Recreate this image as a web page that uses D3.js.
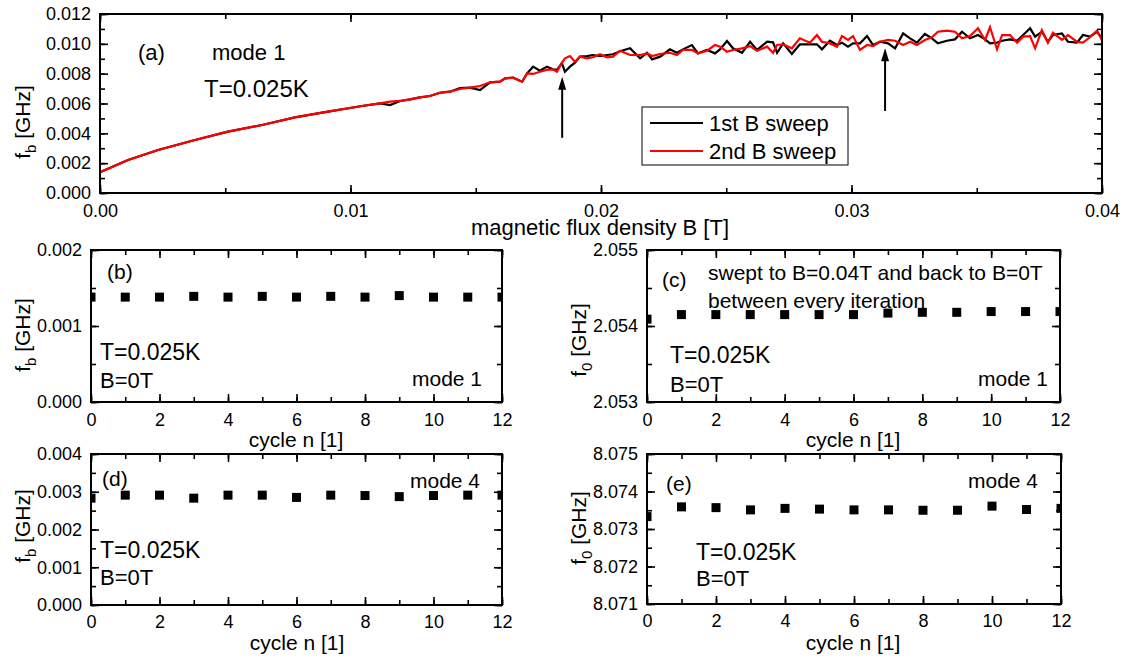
<!DOCTYPE html>
<html>
<head>
<meta charset="utf-8">
<script src="https://cdn.jsdelivr.net/npm/d3@7"></script>
<style>
  body { margin: 0; background: #fff; }
  svg { font-family: "Liberation Sans", Arial, sans-serif; }
</style>
</head>
<body>
<svg id="chart" width="1137" height="664"></svg>
<script>
// ---- data ----
const bField = [0, 0.00112, 0.00232, 0.00379, 0.00511, 0.00647, 0.00778, 0.0091, 0.01046, 0.01118,
  0.01158, 0.01198, 0.01238, 0.01277, 0.01317, 0.01357, 0.01397, 0.01437, 0.01477, 0.01517,
  0.01557, 0.01597, 0.01617, 0.01649, 0.01685, 0.01705, 0.01729, 0.01756, 0.01784, 0.01808,
  0.01824, 0.01844, 0.01856, 0.01876, 0.01896, 0.01916, 0.01944, 0.01968, 0.01996, 0.02024,
  0.02048, 0.02076, 0.02116, 0.02156, 0.02184, 0.02204, 0.02236, 0.02275, 0.02303, 0.02327,
  0.02363, 0.02387, 0.02423, 0.02455, 0.02475, 0.02503, 0.02527, 0.02563, 0.02595, 0.02623,
  0.02663, 0.02687, 0.02703, 0.02727, 0.02762, 0.02794, 0.02834, 0.02862, 0.02882, 0.02914,
  0.02942, 0.02962, 0.02986, 0.03006, 0.03034, 0.03062, 0.03086, 0.03114, 0.03146, 0.03174,
  0.03206, 0.03234, 0.03261, 0.03293, 0.03321, 0.03345, 0.03381, 0.03413, 0.03441, 0.03473,
  0.03505, 0.03533, 0.03553, 0.03581, 0.03601, 0.03633, 0.03661, 0.03685, 0.03713, 0.03733,
  0.0376, 0.03784, 0.03804, 0.0384, 0.03864, 0.039, 0.03924, 0.03952, 0.0398, 0.04];

const sweep1 = [0.00139, 0.00221, 0.00288, 0.00355, 0.00411, 0.00456, 0.00507, 0.00545, 0.00583, 0.00601,
  0.0059, 0.00617, 0.00628, 0.00641, 0.0065, 0.00672, 0.00679, 0.00704, 0.00706, 0.0069,
  0.00742, 0.00746, 0.00769, 0.00773, 0.00746, 0.00802, 0.00847, 0.0082, 0.00847, 0.00829,
  0.00825, 0.0087, 0.00813, 0.00847, 0.00874, 0.00914, 0.00918, 0.00925, 0.00918, 0.00925,
  0.0093, 0.0095, 0.0097, 0.00903, 0.0094, 0.00896, 0.00914, 0.00963, 0.0094, 0.00963,
  0.00992, 0.00936, 0.00959, 0.00936, 0.00963, 0.01019, 0.0097, 0.0094, 0.01014, 0.00959,
  0.01014, 0.0101, 0.0094, 0.01003, 0.00932, 0.00997, 0.00997, 0.00997, 0.00963, 0.01021,
  0.00992, 0.01008, 0.00981, 0.01003, 0.01003, 0.01052, 0.00992, 0.01014, 0.01003, 0.0097,
  0.0107, 0.01037, 0.01008, 0.01066, 0.01037, 0.01003, 0.01021, 0.0103, 0.01081, 0.01037,
  0.01059, 0.0103, 0.01003, 0.01008, 0.01021, 0.0103, 0.01021, 0.01059, 0.01104, 0.01048,
  0.01081, 0.01014, 0.01059, 0.0107, 0.01014, 0.01008, 0.01059, 0.01048, 0.01081, 0.01037];

const sweep2 = [0.00139, 0.00221, 0.00288, 0.00355, 0.00411, 0.00456, 0.00507, 0.00545, 0.00583, 0.00601,
  0.00612, 0.00617, 0.00628, 0.00641, 0.0065, 0.00672, 0.00679, 0.00697, 0.00706, 0.00717,
  0.00742, 0.00746, 0.00769, 0.00773, 0.00746, 0.00802, 0.00798, 0.00813, 0.00825, 0.00829,
  0.00813, 0.00874, 0.00903, 0.00918, 0.0088, 0.00914, 0.00903, 0.0091, 0.0093, 0.0091,
  0.00914, 0.00954, 0.00925, 0.00925, 0.00936, 0.00918, 0.00932, 0.0094, 0.00925, 0.00959,
  0.00959, 0.00936, 0.00954, 0.00992, 0.00981, 0.00947, 0.00959, 0.0097, 0.00985, 0.00954,
  0.00981, 0.0094, 0.00992, 0.00997, 0.0097, 0.01037, 0.01008, 0.01059, 0.01014, 0.01003,
  0.00981, 0.01052, 0.01026, 0.01052, 0.00959, 0.00992, 0.00985, 0.01014, 0.01026, 0.01021,
  0.00992, 0.01014, 0.00992, 0.01026, 0.01044, 0.01081, 0.01088, 0.01081, 0.01037, 0.01052,
  0.01104, 0.01026, 0.01111, 0.00963, 0.01059, 0.01059, 0.01008, 0.01048, 0.01052, 0.0097,
  0.01093, 0.01008, 0.01075, 0.01026, 0.01059, 0.01014, 0.01008, 0.01044, 0.01088, 0.01026];

const cycles = d3.range(0, 13);
const fbMode1 = [0.00138, 0.00138, 0.00138, 0.00139, 0.00138, 0.00139, 0.00138, 0.00139, 0.00138, 0.0014, 0.00138, 0.00138, 0.00138];
const f0Mode1 = [2.05409, 2.05415, 2.05415, 2.05415, 2.05415, 2.05415, 2.05415, 2.05417, 2.05418, 2.05418, 2.05419, 2.05419, 2.05419];
const fbMode4 = [0.00283, 0.00291, 0.00291, 0.00283, 0.00291, 0.00291, 0.00285, 0.00291, 0.0029, 0.00287, 0.0029, 0.00291, 0.00291];
const f0Mode4 = [8.07333, 8.07359, 8.07357, 8.07351, 8.07355, 8.07353, 8.07351, 8.07351, 8.0735, 8.0735, 8.07361, 8.07352, 8.07355];

const bTicks = [0, 0.01, 0.02, 0.03, 0.04];
const bMinor = d3.range(0, 0.0401, 0.005);
const fbTicksA = [0, 0.002, 0.004, 0.006, 0.008, 0.01, 0.012];
const fbMinorA = d3.range(0, 0.01201, 0.001);
const cycleTicks = [0, 2, 4, 6, 8, 10, 12];
const cycleMinor = d3.range(0, 13, 1);

// arrows in panel (a): [B, tail f, tip f]
const arrows = [[0.01845, 0.0037, 0.0078], [0.03134, 0.0055, 0.0097]];

const svg = d3.select('#chart');

function makePanel(o) {
  const g = svg.append('g').attr('transform', `translate(${o.left},${o.top})`);
  const x = d3.scaleLinear().domain(o.xDomain).range([0, o.width]);
  const y = d3.scaleLinear().domain(o.yDomain).range([o.height, 0]);

  g.append('clipPath').attr('id', 'clip-' + o.name)
    .append('rect').attr('width', o.width).attr('height', o.height);
  const plot = g.append('g').attr('clip-path', `url(#clip-${o.name})`);

  const put = (axis, tr, labels) => {
    const a = g.append('g').attr('transform', tr || null).call(axis);
    a.select('.domain').remove();
    a.selectAll('line').attr('stroke-width', 1.6);
    a.attr('font-family', null).attr('font-size', 18);
    if (!labels) a.selectAll('text').remove();
  };
  const bottom = `translate(0,${o.height})`, right = `translate(${o.width},0)`;
  put(d3.axisBottom(x).tickValues(o.xMinor).tickSize(-5), bottom);
  put(d3.axisBottom(x).tickValues(o.xMajor).tickFormat(o.xFmt).tickSize(-8).tickPadding(o.xPad), bottom, true);
  put(d3.axisTop(x).tickValues(o.xMinor).tickSize(-5));
  put(d3.axisTop(x).tickValues(o.xMajor).tickSize(-8));
  put(d3.axisLeft(y).tickValues(o.yMinor).tickSize(-5));
  put(d3.axisLeft(y).tickValues(o.yMajor).tickFormat(d3.format('.3f')).tickSize(-8).tickPadding(9), null, true);
  put(d3.axisRight(y).tickValues(o.yMinor).tickSize(-5), right);
  put(d3.axisRight(y).tickValues(o.yMajor).tickSize(-8), right);

  g.append('rect').attr('width', o.width).attr('height', o.height)
    .attr('fill', 'none').attr('stroke', '#000').attr('stroke-width', 2);

  // y label with subscript
  const yl = svg.append('text')
    .attr('transform', `translate(${o.ylX},${o.ylY}) rotate(-90)`)
    .attr('text-anchor', 'middle').attr('font-size', 21);
  yl.append('tspan').text('f');
  yl.append('tspan').attr('font-size', 15).attr('dy', 6).text(o.sub);
  yl.append('tspan').attr('dy', -6).text(' [GHz]');

  svg.append('text').attr('x', o.xlX).attr('y', o.xlY)
    .attr('text-anchor', 'middle').attr('font-size', o.xlSize || 21).text(o.xLabel);

  return { g, plot, x, y };
}

function note(x, y, str, anchor, size) {
  svg.append('text').attr('x', x).attr('y', y)
    .attr('text-anchor', anchor || 'start').attr('font-size', size || 21).text(str);
}

function squares(p, vals) {
  p.plot.selectAll('rect.pt').data(d3.zip(cycles, vals)).join('rect')
    .attr('class', 'pt')
    .attr('x', d => p.x(d[0]) - 4.5).attr('y', d => p.y(d[1]) - 4.5)
    .attr('width', 9).attr('height', 9).attr('fill', '#000');
}

// ---- panel (a) ----
const pa = makePanel({
  name: 'a', left: 100, top: 14, width: 1002, height: 179,
  xDomain: [0, 0.04], yDomain: [0, 0.012],
  xMajor: bTicks, xMinor: bMinor, yMajor: fbTicksA, yMinor: fbMinorA,
  xFmt: d3.format('.2f'), xPad: 11, sub: 'b', ylX: 30, ylY: 122,
  xLabel: 'magnetic flux density B [T]', xlX: 600, xlY: 235, xlSize: 22
});
const line = d3.line().x(d => pa.x(d[0])).y(d => pa.y(d[1]));
pa.plot.append('path').datum(d3.zip(bField, sweep1)).attr('d', line)
  .attr('fill', 'none').attr('stroke', '#000').attr('stroke-width', 2.2);
pa.plot.append('path').datum(d3.zip(bField, sweep2)).attr('d', line)
  .attr('fill', 'none').attr('stroke', '#ff0000').attr('stroke-width', 2.2);

arrows.forEach(([b, f1, f2]) => {
  const ax = pa.x(b), y1 = pa.y(f1), y2 = pa.y(f2);
  pa.g.append('line').attr('x1', ax).attr('x2', ax).attr('y1', y1).attr('y2', y2 + 10)
    .attr('stroke', '#000').attr('stroke-width', 2);
  pa.g.append('path').attr('d', `M${ax},${y2} L${ax - 4},${y2 + 13} L${ax + 4},${y2 + 13} Z`).attr('fill', '#000');
});

note(138, 60, '(a)', 'start', 22);
note(212, 60, 'mode 1', 'start', 22);
note(204, 97, 'T=0.025K', 'start', 24);

// legend
const leg = svg.append('g');
leg.append('rect').attr('x', 642).attr('y', 107).attr('width', 206).attr('height', 58)
  .attr('fill', '#fff').attr('stroke', '#000').attr('stroke-width', 1);
[['1st B sweep', '#000', 123, 131], ['2nd B sweep', '#ff0000', 151, 159]].forEach(([t, c, ly, ty]) => {
  leg.append('line').attr('x1', 650).attr('x2', 703).attr('y1', ly).attr('y2', ly)
    .attr('stroke', c).attr('stroke-width', 2.2);
  leg.append('text').attr('x', 709).attr('y', ty).attr('font-size', 22).text(t);
});

// ---- small panels ----
const small = {
  xDomain: [0, 12], xMajor: cycleTicks, xMinor: cycleMinor, xFmt: d3.format('d'),
  xLabel: 'cycle n [1]'
};

const pb = makePanel(Object.assign({}, small, {
  name: 'b', left: 91, top: 250, width: 411, height: 152, yDomain: [0, 0.002],
  yMajor: [0, 0.001, 0.002], yMinor: [0, 0.0005, 0.001, 0.0015, 0.002],
  xPad: 11, sub: 'b', ylX: 30, ylY: 335, xlX: 296, xlY: 447
}));
squares(pb, fbMode1);
note(107, 279, '(b)');
note(100, 360, 'T=0.025K', 'start', 23);
note(100, 388, 'B=0T', 'start', 22);
note(482, 386, 'mode 1', 'end');

const pc = makePanel(Object.assign({}, small, {
  name: 'c', left: 647, top: 250, width: 413, height: 152, yDomain: [2.053, 2.055],
  yMajor: [2.053, 2.054, 2.055], yMinor: [2.053, 2.0535, 2.054, 2.0545, 2.055],
  xPad: 11, sub: '0', ylX: 586, ylY: 340, xlX: 853, xlY: 447
}));
squares(pc, f0Mode1);
note(662, 287, '(c)');
note(708, 280, 'swept to B=0.04T and back to B=0T');
note(708, 308, 'between every iteration');
note(670, 363, 'T=0.025K', 'start', 23);
note(670, 392, 'B=0T', 'start', 22);
note(1048, 386, 'mode 1', 'end');

const pd = makePanel(Object.assign({}, small, {
  name: 'd', left: 91, top: 454, width: 411, height: 151, yDomain: [0, 0.004],
  yMajor: [0, 0.001, 0.002, 0.003, 0.004], yMinor: d3.range(0, 0.00401, 0.0005),
  xPad: 10, sub: 'b', ylX: 30, ylY: 526, xlX: 297, xlY: 650
}));
squares(pd, fbMode4);
note(102, 486, '(d)');
note(480, 488, 'mode 4', 'end');
note(100, 558, 'T=0.025K', 'start', 23);
note(100, 585, 'B=0T', 'start', 22);

const pe = makePanel(Object.assign({}, small, {
  name: 'e', left: 647, top: 454, width: 414, height: 150, yDomain: [8.071, 8.075],
  yMajor: [8.071, 8.072, 8.073, 8.074, 8.075], yMinor: d3.range(8.071, 8.07501, 0.0005),
  xPad: 10, sub: '0', ylX: 586, ylY: 528, xlX: 853, xlY: 650
}));
squares(pe, f0Mode4);
note(666, 491, '(e)');
note(1038, 488, 'mode 4', 'end');
note(696, 560, 'T=0.025K', 'start', 23);
note(696, 586, 'B=0T', 'start', 22);
</script>
</body>
</html>
